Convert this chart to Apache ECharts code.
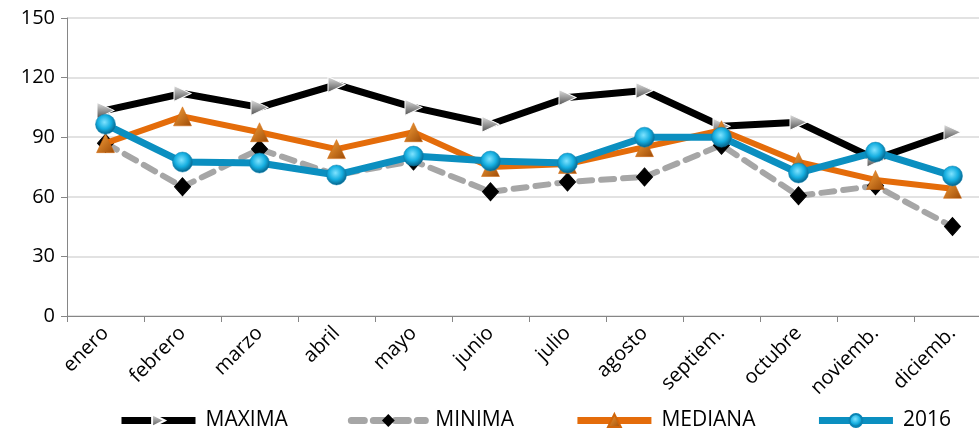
<!DOCTYPE html>
<html>
<head>
<meta charset="utf-8">
<script src="https://cdn.jsdelivr.net/npm/echarts@6/dist/echarts.min.js"></script>
<style>
  html, body { margin: 0; padding: 0; background: #fff; overflow: hidden; }
  /* the plot area runs slightly past the right edge of the window */
  #chart { width: 991px; height: 432px; }
</style>
</head>
<body>
<div id="chart"></div>
<script>
// Monthly values
const months = ['enero', 'febrero', 'marzo', 'abril', 'mayo', 'junio', 'julio', 'agosto', 'septiem.', 'octubre', 'noviemb.', 'diciemb.'];
const maxima  = [103.5, 112, 105, 116.5, 105, 96.5, 110, 113.5, 95.5, 97.5, 79, 92.5];
const minima  = [87, 65, 84, 71, 78, 62.5, 67.5, 70, 86, 60.5, 65.5, 45];
const mediana = [87, 100.5, 92.5, 84, 92.5, 75, 76.5, 85, 93.5, 77.5, 68.5, 64];
const y2016   = [96.5, 77.5, 77, 71, 80.5, 78, 77, 90, 90, 72, 82.5, 70.5];
const yTicks  = { min: 0, max: 150, interval: 30 };

const FONT = '"Open Sans", "Noto Sans", sans-serif';

const chart = echarts.init(document.getElementById('chart'), null, { renderer: 'canvas' });

function lin(c1, c2, x2, y2) {
  return new echarts.graphic.LinearGradient(0, 0, x2, y2, [
    { offset: 0, color: c1 }, { offset: 1, color: c2 }
  ]);
}

chart.setOption({
  animation: false,
  backgroundColor: '#ffffff',
  grid: { left: 67, top: 18, right: 0, bottom: 116, containLabel: false },
  legend: {
    top: 410,
    left: 118,
    padding: 0,
    itemWidth: 74,
    itemHeight: 16,
    itemGap: 60,
    lineStyle: { width: 7 },
    textStyle: { fontFamily: FONT, fontSize: 21, color: '#000', padding: [0, 0, 0, 5] },
    data: ['MAXIMA', 'MINIMA', 'MEDIANA', '2016']
  },
  xAxis: {
    type: 'category',
    data: months,
    boundaryGap: true,
    axisLine: { lineStyle: { color: '#868686', width: 1 } },
    axisTick: { show: true, length: 6, lineStyle: { color: '#868686' } },
    axisLabel: {
      rotate: 45, margin: 14, fontFamily: FONT, fontSize: 20, color: '#000', interval: 0
    },
    splitLine: { show: false }
  },
  yAxis: {
    type: 'value',
    min: yTicks.min, max: yTicks.max, interval: yTicks.interval,
    axisLine: { show: true, lineStyle: { color: '#868686', width: 1 } },
    axisTick: { show: true, length: 6, lineStyle: { color: '#868686' } },
    axisLabel: { fontFamily: FONT, fontSize: 20, color: '#000', margin: 12 },
    splitLine: { show: true, lineStyle: { color: '#d9d9d9', width: 1.5 } }
  },
  series: [
    {
      name: 'MAXIMA', type: 'line', data: maxima,
      symbol: 'triangle', symbolRotate: -90, symbolSize: [16, 17],
      lineStyle: { color: '#000000', width: 7 },
      itemStyle: { color: lin('#e6e6e6', '#4d4d4d', 1, 0), borderColor: '#ffffff', borderWidth: 1 },
      z: 2
    },
    {
      name: 'MINIMA', type: 'line', data: minima,
      symbol: 'diamond', symbolSize: [16, 18],
      lineStyle: { color: '#a6a6a6', width: 6, type: [13, 9], cap: 'round' },
      itemStyle: { color: '#000000', borderColor: '#000000' },
      z: 3
    },
    {
      name: 'MEDIANA', type: 'line', data: mediana,
      symbol: 'triangle', symbolSize: [18, 19],
      lineStyle: { color: '#e46c0a', width: 6 },
      itemStyle: { color: lin('#f9a23c', '#9c4a06', 1, 1), borderColor: '#d0650a', borderWidth: 0.5 },
      z: 4
    },
    {
      name: '2016', type: 'line', data: y2016,
      symbol: 'circle', symbolSize: 20,
      lineStyle: { color: '#0b8fc0', width: 7 },
      itemStyle: {
        color: new echarts.graphic.RadialGradient(0.45, 0.4, 0.6, [
          { offset: 0, color: '#7fe3ff' },
          { offset: 0.55, color: '#15aee0' },
          { offset: 1, color: '#045f86' }
        ]),
        borderColor: '#0a83b3', borderWidth: 0.5
      },
      z: 5
    }
  ]
});
</script>
</body>
</html>
